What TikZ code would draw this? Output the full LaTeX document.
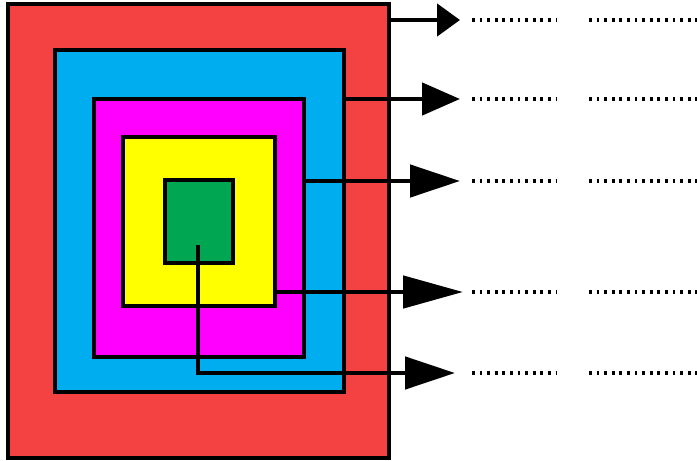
\documentclass[tikz,border=0pt]{standalone}
\usetikzlibrary{arrows.meta}
\definecolor{boxred}{HTML}{F44242}
\definecolor{boxblue}{HTML}{00AEEF}
\definecolor{boxmagenta}{HTML}{FF00FF}
\definecolor{boxyellow}{HTML}{FFFF00}
\definecolor{boxgreen}{HTML}{00A651}
\begin{document}
\begin{tikzpicture}[x=0.5pt,y=-0.5pt,
            every node/.style = {draw, rectangle, inner sep=0pt, outer sep=0pt, line width=1.6pt},
            arr/.style={line width=2.4pt, -{Triangle[length=#1,width=16pt]}},
            dots/.style={line width=1.8pt, dash pattern=on 1.4pt off 2.4pt}]
            \useasboundingbox (0,0) rectangle (697,461);
            % nested boxes
            \node[fill=boxred, line width=2pt, minimum width=190.5pt, minimum height=227pt] (red) at (198.5,231) {};
            \node[fill=boxblue, minimum width=144.5pt, minimum height=171pt] (blue) at (199.5,221) {};
            \node[fill=boxmagenta, minimum width=105pt, minimum height=129pt] (magenta) at (199,228) {};
            \node[fill=boxyellow, minimum width=76pt, minimum height=84.5pt] (yellow) at (199,221.5) {};
            \node[fill=boxgreen, minimum width=34pt, minimum height=41.5pt] (green) at (199,221.5) {};
            % arrow tips
            \coordinate (t1) at (460,20);
            \coordinate (t2) at (460,99);
            \coordinate (t3) at (460,181);
            \coordinate (t4) at (463,292);
            \coordinate (t5) at (455,373);
            \coordinate (g) at (198,245);
            \draw[arr=11.5pt] (t1 -| red.east) -- (t1);
            \draw[arr=19pt] (t2 -| blue.east) -- (t2);
            \draw[arr=25pt] (t3 -| magenta.east) -- (t3);
            \draw[arr=30pt] (t4 -| yellow.east) -- (t4);
            \draw[arr=25pt] (g) -- (g |- t5) -- (t5);
            % dotted lines
            \foreach \y in {20,99,181,292,373} {
                \draw[dots] (472,\y) -- (556,\y);
                \draw[dots] (589,\y) -- (697,\y);
            }
        \end{tikzpicture}
\end{document}
